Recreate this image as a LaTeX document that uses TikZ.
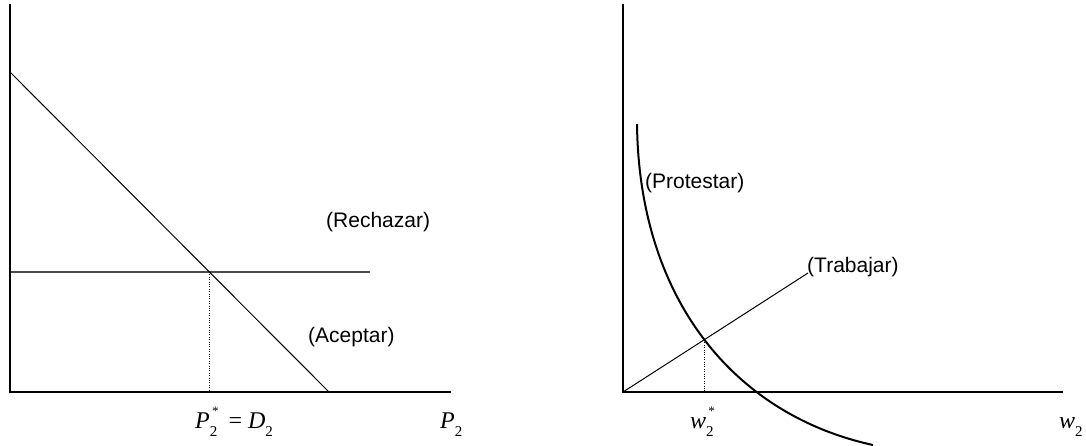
\documentclass[tikz,border=0pt]{standalone}
\usepackage{fontspec}
\setmainfont{Liberation Sans}
\newfontfamily\tms{Liberation Serif}
\newcommand\mlab[1]{{\tms\fontsize{24}{26}\selectfont\itshape #1}}
\newcommand\msub[1]{\raisebox{-8pt}{\tms\upshape\fontsize{15}{15}\selectfont #1}}
\newcommand\msubsup[2]{\makebox[0pt][l]{\msub{#1}}\raisebox{13pt}{\tms\upshape\fontsize{13}{13}\selectfont\,#2}\hspace{-3pt}}
\begin{document}
\begin{tikzpicture}[x=1pt,y=-1pt,
  axis/.style={line width=2pt,black},
  thinline/.style={line width=1pt,black},
  graythin/.style={line width=1.1pt,black!70},
  curveline/.style={line width=2pt,black},
  guide/.style={line width=0.8pt,black,dash pattern=on 1pt off 1.4pt},
  lab/.style={inner sep=0pt,font=\fontsize{21}{24}\selectfont},
  mathlab/.style={inner sep=0pt,anchor=base west}]
\useasboundingbox (0,0) rectangle (1086,445);
% left panel
\coordinate (Ltop) at (10,4);
\coordinate (O1) at (10,392);
\coordinate (Lend) at (451,392);
\coordinate (Dtop) at (10,72);
\coordinate (Dbot) at (329,392);
\coordinate (Hl) at (10,272);
\coordinate (Hr) at (370,272);
\coordinate (E1) at (209,272);
\coordinate (E1b) at (209,392);
\draw[graythin] (Hl) -- (Hr);
\draw[thinline] (Dtop) -- (Dbot);
\draw[guide] (E1) -- (E1b);
\draw[axis] (Ltop) -- (O1) -- (Lend);
\node[lab,anchor=west] (rech) at (326,222) {(Rechazar)};
\node[lab,anchor=west] (acep) at (308,337) {(Aceptar)};
\node[mathlab] (pstar) at (195,428) {\mlab{P\msubsup{2}{*}\hspace{13pt}{\upshape =}\hspace{6pt}D\msub{2}}};
\node[mathlab] (p2) at (440,428) {\mlab{P\msub{2}}};
% right panel
\coordinate (Rtop) at (623,4);
\coordinate (O2) at (623,392);
\coordinate (Rend) at (1063,392);
\coordinate (Tend) at (808,273);
\coordinate (E2) at (704,340);
\coordinate (E2b) at (704,392);
\coordinate (Cs) at (637,124);
\coordinate (Ce) at (873,445);
\draw[thinline] (O2) -- (Tend);
\draw[guide] (E2) -- (E2b);
\draw[curveline] (Cs) .. controls (639,300) and (735,415) .. (Ce);
\draw[axis] (Rtop) -- (O2) -- (Rend);
\node[lab,anchor=west] (prot) at (645,183) {(Protestar)};
\node[lab,anchor=west] (trab) at (807,267) {(Trabajar)};
\node[mathlab] (wstar) at (690,428) {\mlab{w\msubsup{2}{*}}};
\node[mathlab] (w2) at (1059,428) {\mlab{w\msub{2}}};
\end{tikzpicture}
\end{document}
